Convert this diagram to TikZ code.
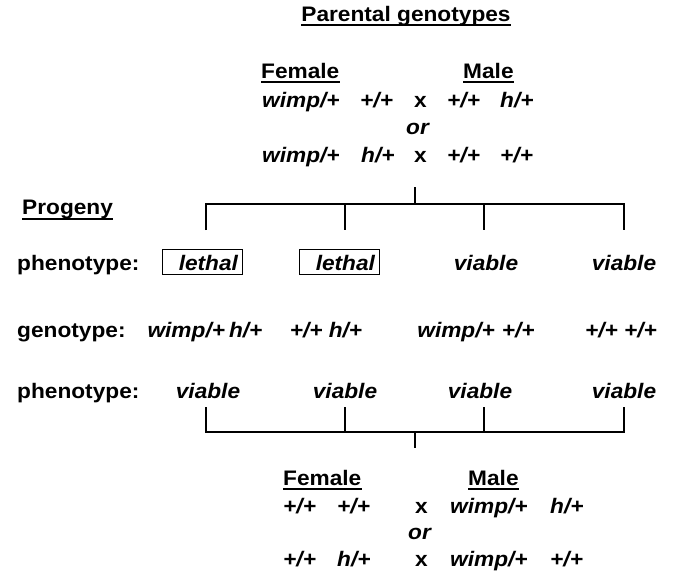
\documentclass[tikz,border=0pt]{standalone}
\usepackage{fontspec}
\setmainfont{Liberation Sans}[FakeStretch=1.08]
\begin{document}
\begin{tikzpicture}[x=1pt,y=-1pt,
  txt/.style={inner sep=0pt, font=\fontsize{21}{25}\selectfont\bfseries},
  itx/.style={inner sep=0pt, font=\fontsize{21}{25}\selectfont\bfseries\itshape},
  brk/.style={line width=2.4pt},
  ul/.style={line width=1.5pt},
  lbox/.style={itx, draw, line width=0.8pt, text width=72pt, align=right,
    inner xsep=4pt, inner ysep=1pt, text height=20pt, text depth=3pt}]
\useasboundingbox (0,0) rectangle (675,574);
% ---------- Parental genotypes ----------
\node[txt, anchor=base] (pg) at (406,21) {Parental genotypes};
\draw[ul] ([yshift=-4pt]pg.base west) -- ([yshift=-4pt]pg.base east);
\node[txt, anchor=base west] (tf) at (261,78) {Female};
\node[txt, anchor=base west] (tm) at (463,78) {Male};
\draw[ul] ([yshift=-4pt]tf.base west) -- ([yshift=-4pt]tf.base east);
\draw[ul] ([yshift=-4pt]tm.base west) -- ([yshift=-4pt]tm.base east);
\node[itx, anchor=base west] (a1) at (262,107) {wimp/+};
\node[itx, anchor=base west] (a2) at (360,107) {+/+};
\node[txt, anchor=base west] (a3) at (414,107) {x};
\node[itx, anchor=base west] (a4) at (447,107) {+/+};
\node[itx, anchor=base west] (a5) at (500,107) {h/+};
\node[itx, anchor=base west] (aor) at (406,134) {or};
\node[itx, anchor=base west] (b1) at (262,162) {wimp/+};
\node[itx, anchor=base west] (b2) at (361,162) {h/+};
\node[txt, anchor=base west] (b3) at (414,162) {x};
\node[itx, anchor=base west] (b4) at (447,162) {+/+};
\node[itx, anchor=base west] (b5) at (500,162) {+/+};
% ---------- top bracket ----------
\coordinate (ts) at (415,187);
\coordinate (tj) at (415,204);
\coordinate (th1) at (206,204);
\coordinate (th2) at (345,204);
\coordinate (th3) at (484,204);
\coordinate (th4) at (624,204);
\coordinate (te1) at (206,230);
\coordinate (te2) at (345,230);
\coordinate (te3) at (484,230);
\coordinate (te4) at (624,230);
\draw[brk] (ts) -- (tj);
\draw[brk, line join=miter] (te1) -- (th1) -- (th4) -- (te4);
\draw[brk] (th2) -- (te2);
\draw[brk] (th3) -- (te3);
% ---------- Progeny ----------
\node[txt, anchor=base west] (prog) at (22,214) {Progeny};
\draw[ul] ([yshift=-5pt]prog.base west) -- ([yshift=-5pt]prog.base east);
\node[txt, anchor=base west] (ph1) at (17,270) {phenotype:};
\node[lbox, anchor=base] (l1) at (202,270) {lethal};
\node[lbox, anchor=base] (l2) at (339,270) {lethal};
\node[itx, anchor=base] (v13) at (486,270) {viable};
\node[itx, anchor=base] (v14) at (624,270) {viable};
\node[txt, anchor=base west] (gt) at (17,337) {genotype:};
\node[itx, anchor=base] (g1) at (205,337) {wimp/+\hspace{4pt}h/+};
\node[itx, anchor=base] (g2) at (326,337) {+/+ h/+};
\node[itx, anchor=base] (g3) at (476,337) {wimp/+\hspace{7pt}+/+};
\node[itx, anchor=base] (g4) at (621,337) {+/+ +/+};
\node[txt, anchor=base west] (ph2) at (17,398) {phenotype:};
\node[itx, anchor=base] (v21) at (208,398) {viable};
\node[itx, anchor=base] (v22) at (345,398) {viable};
\node[itx, anchor=base] (v23) at (480,398) {viable};
\node[itx, anchor=base] (v24) at (624,398) {viable};
% ---------- bottom bracket ----------
\coordinate (be1) at (206,407);
\coordinate (be2) at (345,407);
\coordinate (be3) at (484,407);
\coordinate (be4) at (624,407);
\coordinate (bh1) at (206,432);
\coordinate (bh2) at (345,432);
\coordinate (bh3) at (484,432);
\coordinate (bh4) at (624,432);
\coordinate (bj) at (415,432);
\coordinate (bs) at (415,448);
\draw[brk, line join=miter] (be1) -- (bh1) -- (bh4) -- (be4);
\draw[brk] (be2) -- (bh2);
\draw[brk] (be3) -- (bh3);
\draw[brk] (bj) -- (bs);
% ---------- bottom cross ----------
\node[txt, anchor=base west] (bf) at (283,485) {Female};
\node[txt, anchor=base west] (bm) at (468,485) {Male};
\draw[ul] ([yshift=-4pt]bf.base west) -- ([yshift=-4pt]bf.base east);
\draw[ul] ([yshift=-4pt]bm.base west) -- ([yshift=-4pt]bm.base east);
\node[itx, anchor=base west] (c1) at (283,513) {+/+};
\node[itx, anchor=base west] (c2) at (337,513) {+/+};
\node[txt, anchor=base west] (c3) at (415,513) {x};
\node[itx, anchor=base west] (c4) at (450,513) {wimp/+};
\node[itx, anchor=base west] (c5) at (550,513) {h/+};
\node[itx, anchor=base west] (cor) at (408,539) {or};
\node[itx, anchor=base west] (d1) at (283,566) {+/+};
\node[itx, anchor=base west] (d2) at (337,566) {h/+};
\node[txt, anchor=base west] (d3) at (415,566) {x};
\node[itx, anchor=base west] (d4) at (450,566) {wimp/+};
\node[itx, anchor=base west] (d5) at (550,566) {+/+};
\end{tikzpicture}
\end{document}
